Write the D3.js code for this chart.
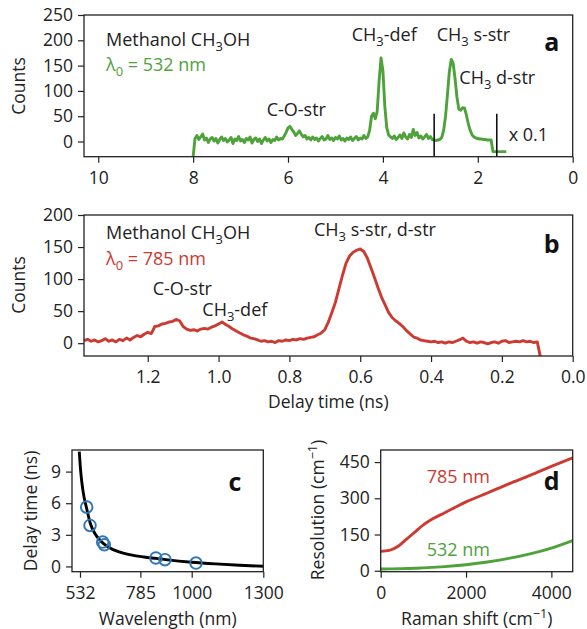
<!DOCTYPE html>
<html>
<head>
<meta charset="utf-8">
<script src="https://cdn.jsdelivr.net/npm/d3@7"></script>
<style>
  html, body { margin: 0; padding: 0; background: #fff; }
  svg text { font-family: "Open Sans", "DejaVu Sans", sans-serif; fill: #222; }
</style>
</head>
<body>
<svg id="fig" width="587" height="629"></svg>
<script>
// ---------- data ----------
// (a) 532 nm excitation: delay time grid starts at 8.00 ns, step 0.04 ns
const startA = 8.00, stepA = 0.04;
const countsA = [
  -30, 6, 12, 4, 9, 15, 3, 7, -2, 5, 8, 1, 6, -3, 4, 9, 2, 6, -1, 3,
  8, -4, 5, 2, 10, 1, 4, -2, 6, 3, 9, -3, 4, 7, 0, 5, -4, 3, 8, 1,
  5, -2, 4, 2, 9, 3, 6, 5, 11, 18, 27, 30, 24, 19, 12, 16, 21, 14, 9, 12,
  5, 8, 3, 9, 4, 7, 1, 6, 10, 3, 5, 12, 4, 7, 2, 8, 5, 11, 3, 6,
  1, 7, 4, 9, 2, 6, 10, 3, 7, 5, 12, 6, 9, 22, 50, 56, 45, 60, 120, 165,
  140, 70, 28, 13, 9, 6, 11, 4, 8, 13, 6, 17, 9, 5, 14, 8, 24, 12, 18, 7,
  11, 5, 9, 14, 6, 10, 4, 3, 2, 3, 4, 8, 22, 50, 92, 138, 162, 155, 125, 88,
  64, 62, 67, 66, 52, 35, 22, 13, 9, 7, 6, 5, 5, 4, 4, 3, 3, 3, -20, -20,
  -20, -20, -20, -20, -20, -20
];
const scaleMarksA = [2.92, 1.60];      // boundaries of the x 0.1 section

// (b) 785 nm excitation: grid starts at 1.38 ns, step 0.01 ns
const startB = 1.38, stepB = 0.01;
const countsB = [
  4, 6, 3, 5, 2, 4, 7, 3, 5, 2, 6, 4, 8, 5, 9, 12, 10, 14, 17, 15,
  26, 27, 30, 31, 33, 34, 37, 35, 26, 22, 20, 21, 19, 22, 23, 22, 25, 27, 30, 33,
  29, 26, 22, 19, 16, 13, 11, 8, 7, 5, 3, 4, 2, 3, 1, 4, 3, 5, 4, 6,
  5, 7, 6, 8, 9, 10, 13, 16, 21, 33, 48, 64, 85, 106, 125, 136, 142, 145, 147, 143,
  133, 118, 103, 87, 72, 60, 48, 40, 35, 31, 26, 20, 15, 10, 8, 5, 4, 3, 2, 3,
  1, 2, 0, 2, 1, 3, 5, 8, 3, 1, 2, 0, 2, 1, -1, 1, 2, 0, 3, 4,
  1, 2, 3, 2, 4, 2, 3, 1, 2, -25
];

// (c) delay time vs excitation wavelength
const measWavelength = [560, 574, 627, 634, 850, 888, 1018];
const measDelay      = [5.63, 3.89, 2.31, 2.06, 0.80, 0.64, 0.32];
const fitWavelength  = [529, 535, 545, 560, 575, 595, 620, 650, 700, 750, 800, 850, 900, 1000, 1100, 1200, 1300];
const fitDelay       = [10.9, 9.0, 7.1, 5.5, 4.1, 3.1, 2.4, 1.85, 1.35, 1.07, 0.9, 0.76, 0.62, 0.4, 0.24, 0.11, 0.02];

// (d) spectral resolution vs Raman shift
const ramanShift = [0, 200, 400, 600, 800, 1000, 1200, 1500, 2000, 2500, 3000, 3500, 4000, 4500];
const res785     = [80, 84, 100, 130, 160, 190, 213, 240, 285, 322, 360, 395, 432, 468];
const res532     = [7, 7.5, 8, 9, 10, 12, 14, 17, 25, 36, 51, 70, 94, 125];

const ticksA = [10, 8, 6, 4, 2, 0], yTicksA = [0, 50, 100, 150, 200, 250];
const ticksB = [1.2, 1.0, 0.8, 0.6, 0.4, 0.2, 0.0], yTicksB = [0, 50, 100, 150, 200];
const ticksC = [532, 785, 1000, 1300], yTicksC = [0, 3, 6, 9];
const ticksD = [0, 2000, 4000], yTicksD = [0, 150, 300, 450];

// ---------- style ----------
const GREEN = "#4ea23a", RED = "#cc3a31", BLUE = "#2f77b8";
const FS = 17.5, FT = 18;
const LW = 2.9;

const svg = d3.select("#fig");

function panel(box, xDom, yDom, name) {
  const x = d3.scaleLinear().domain(xDom).range([box.x0, box.x1]);
  const y = d3.scaleLinear().domain(yDom).range([box.y1, box.y0]);
  svg.append("clipPath").attr("id", "clip-" + name)
    .append("rect").attr("x", box.x0).attr("y", box.y0)
    .attr("width", box.x1 - box.x0).attr("height", box.y1 - box.y0);
  const plot = svg.append("g").attr("clip-path", `url(#clip-${name})`);
  return { x, y, box, plot };
}

function axes(p, xt, yt, xfmt, yfmt) {
  const gx = svg.append("g").attr("transform", `translate(0,${p.box.y1})`)
    .call(d3.axisBottom(p.x).tickValues(xt).tickFormat(xfmt).tickSize(6).tickPadding(9).tickSizeOuter(0));
  const gy = svg.append("g").attr("transform", `translate(${p.box.x0},0)`)
    .call(d3.axisLeft(p.y).tickValues(yt).tickFormat(yfmt).tickSize(6).tickPadding(5).tickSizeOuter(0));
  [gx, gy].forEach(g => {
    g.select(".domain").remove();
    g.selectAll(".tick line").attr("stroke", "#222").attr("stroke-width", 1.2);
    g.selectAll(".tick text").attr("font-size", FS).attr("fill", "#222")
      .style("font-family", '"Open Sans", sans-serif');
  });
  svg.append("rect").attr("x", p.box.x0).attr("y", p.box.y0)
    .attr("width", p.box.x1 - p.box.x0).attr("height", p.box.y1 - p.box.y0)
    .attr("fill", "none").attr("stroke", "#222").attr("stroke-width", 1.3);
}

// text with sub/superscripts: parts are strings or {sub:"3"} / {sup:"−1"}
function rich(x, y, parts, o = {}) {
  const fs = o.size || FT;
  const t = svg.append("text").attr("x", x).attr("y", y)
    .attr("font-size", fs).attr("text-anchor", o.anchor || "start")
    .style("fill", o.color || "#222");
  if (o.rotate) t.attr("transform", `rotate(-90,${x},${y})`);
  let shift = 0;
  parts.forEach(pt => {
    const s = t.append("tspan");
    if (typeof pt === "string") {
      if (shift) s.attr("dy", -shift);
      shift = 0;
      s.text(pt);
    } else {
      const d = pt.sub ? fs * 0.3 : -fs * 0.38;
      s.attr("dy", d - shift).attr("font-size", fs * 0.72).text(pt.sub || pt.sup);
      shift = d;
    }
  });
  return t;
}

function letter(x, y, s) {
  svg.append("text").attr("x", x).attr("y", y).attr("text-anchor", "middle")
    .attr("font-size", 25).attr("font-weight", "bold").style("fill", "#111").text(s);
}

function trace(p, data, color) {
  p.plot.append("path").datum(data)
    .attr("d", d3.line().x(d => p.x(d[0])).y(d => p.y(d[1])))
    .attr("fill", "none").attr("stroke", color).attr("stroke-width", LW)
    .attr("stroke-linejoin", "round");
}

// ---------- (a) ----------
const pa = panel({ x0: 84, x1: 572.7, y0: 15, y1: 156.7 }, [10.3, 0], [-30, 250], "a");
trace(pa, countsA.map((v, i) => [startA - i * stepA, v]), GREEN);
scaleMarksA.forEach(t => {
  pa.plot.append("line").attr("x1", pa.x(t)).attr("x2", pa.x(t))
    .attr("y1", pa.y(-30)).attr("y2", pa.y(55)).attr("stroke", "#111").attr("stroke-width", 1.6);
});
axes(pa, ticksA, yTicksA, d3.format("d"), d3.format("d"));
rich(106, 45.5, ["Methanol CH", { sub: "3" }, "OH"]);
rich(106, 71, ["λ", { sub: "0" }, " = 532 nm"], { color: GREEN });
rich(266.7, 116, ["C-O-str"]);
rich(351.7, 41, ["CH", { sub: "3" }, "-def"]);
rich(436.7, 41, ["CH", { sub: "3" }, " s-str"]);
rich(459.3, 84, ["CH", { sub: "3" }, " d-str"]);
rich(508.7, 141, ["x 0.1"]);
letter(551.7, 51, "a");
rich(25, 86, ["Counts"], { anchor: "middle", rotate: true, size: FS });

// ---------- (b) ----------
const pb = panel({ x0: 84, x1: 572.7, y0: 215, y1: 356 }, [1.38, 0], [-20, 200], "b");
trace(pb, countsB.map((v, i) => [startB - i * stepB, v]), RED);
axes(pb, ticksB, yTicksB, d3.format(".1f"), d3.format("d"));
rich(106, 239, ["Methanol CH", { sub: "3" }, "OH"]);
rich(106, 264.5, ["λ", { sub: "0" }, " = 785 nm"], { color: RED });
rich(152.7, 295, ["C-O-str"]);
rich(202.3, 316, ["CH", { sub: "3" }, "-def"]);
rich(314, 236, ["CH", { sub: "3" }, " s-str, d-str"]);
letter(551.7, 253, "b");
rich(25, 285, ["Counts"], { anchor: "middle", rotate: true, size: FS });
rich(328.3, 407.5, ["Delay time (ns)"], { anchor: "middle", size: FS });

// ---------- (c) ----------
const pc = panel({ x0: 72, x1: 263.3, y0: 450, y1: 571.7 }, [498.5, 1300], [-0.5, 11.05], "c");
pc.plot.append("path").datum(fitWavelength.map((w, i) => [w, fitDelay[i]]))
  .attr("d", d3.line().curve(d3.curveMonotoneX).x(d => pc.x(d[0])).y(d => pc.y(d[1])))
  .attr("fill", "none").attr("stroke", "#000").attr("stroke-width", LW);
pc.plot.selectAll("circle").data(measWavelength.map((w, i) => [w, measDelay[i]]))
  .join("circle").attr("cx", d => pc.x(d[0])).attr("cy", d => pc.y(d[1])).attr("r", 5.8)
  .attr("fill", "none").attr("stroke", BLUE).attr("stroke-width", 1.9);
axes(pc, ticksC, yTicksC, d3.format("d"), d3.format("d"));
letter(235, 491, "c");
rich(37, 511, ["Delay time (ns)"], { anchor: "middle", rotate: true, size: FS });
rich(167.7, 625, ["Wavelength (nm)"], { anchor: "middle", size: FS });

// ---------- (d) ----------
const pd = panel({ x0: 380.7, x1: 572.7, y0: 450, y1: 571.7 }, [0, 4500], [-4, 500], "d");
[[res785, RED], [res532, GREEN]].forEach(([vals, col]) => {
  pd.plot.append("path").datum(ramanShift.map((s, i) => [s, vals[i]]))
    .attr("d", d3.line().curve(d3.curveMonotoneX).x(d => pd.x(d[0])).y(d => pd.y(d[1])))
    .attr("fill", "none").attr("stroke", col).attr("stroke-width", LW);
});
axes(pd, ticksD, yTicksD, d3.format("d"), d3.format("d"));
rich(426.7, 483, ["785 nm"], { color: RED });
rich(426.7, 555.5, ["532 nm"], { color: GREEN });
letter(551.7, 490, "d");
rich(324, 510, ["Resolution (cm", { sup: "−1" }, ")"], { anchor: "middle", rotate: true, size: FS });
rich(476.7, 625, ["Raman shift (cm", { sup: "−1" }, ")"], { anchor: "middle", size: FS });
</script>
</body>
</html>
